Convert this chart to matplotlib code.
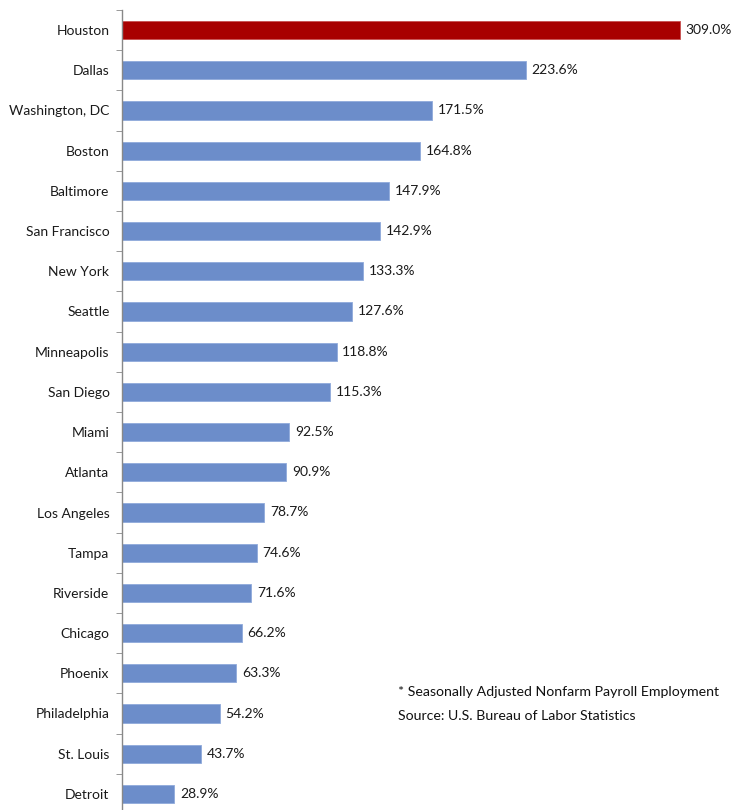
import matplotlib
matplotlib.use('Agg')
import matplotlib.pyplot as plt

# Data
cities = ['Houston', 'Dallas', 'Washington, DC', 'Boston', 'Baltimore',
          'San Francisco', 'New York', 'Seattle', 'Minneapolis', 'San Diego',
          'Miami', 'Atlanta', 'Los Angeles', 'Tampa', 'Riverside',
          'Chicago', 'Phoenix', 'Philadelphia', 'St. Louis', 'Detroit']
growth = [309.0, 223.6, 171.5, 164.8, 147.9,
          142.9, 133.3, 127.6, 118.8, 115.3,
          92.5, 90.9, 78.7, 74.6, 71.6,
          66.2, 63.3, 54.2, 43.7, 28.9]
note_lines = ['* Seasonally Adjusted Nonfarm Payroll Employment',
              'Source: U.S. Bureau of Labor Statistics']

plt.rcParams['font.family'] = ['Lato', 'DejaVu Sans']

W, H = 741, 810
fig = plt.figure(figsize=(W/100, H/100), dpi=100)
left, top, bottom = 122, 10, 814
ax = fig.add_axes([left/W, 1 - bottom/H, (W - left)/W, (bottom - top)/H])

colors = ['#A80000'] + ['#6C8DCA'] * (len(cities) - 1)
edges = ['#C85050'] + ['#8FAADB'] * (len(cities) - 1)
y = list(range(len(cities)))
ax.barh(y, growth, height=0.45, color=colors, edgecolor=edges, linewidth=0.6)

for yi, v in zip(y, growth):
    ax.text(v + 3.2, yi, '{:.1f}%'.format(v), va='center', ha='left',
            fontsize=10, color='#1a1a1a')

ax.set_ylim(len(cities) - 0.5, -0.5)
ax.set_xlim(0, (W - left) / 1.806)
ax.set_yticks(y)
ax.set_yticklabels(cities, fontsize=10, color='#1a1a1a')
ax.tick_params(axis='y', length=0, pad=9)
ax.set_yticks([i - 0.5 for i in range(len(cities) + 1)], minor=True)
ax.tick_params(axis='y', which='minor', length=4, color='#888888', direction='out')
ax.set_xticks([])
for s in ['top', 'right', 'bottom']:
    ax.spines[s].set_visible(False)
ax.spines['left'].set_color('#888888')
ax.spines['left'].set_linewidth(1.0)

fig.text(398/W, 1 - 692/H, note_lines[0], fontsize=10.2, color='#111111', va='center')
fig.text(398/W, 1 - 716/H, note_lines[1], fontsize=10.2, color='#111111', va='center')

fig.savefig('out.png', dpi=100)
